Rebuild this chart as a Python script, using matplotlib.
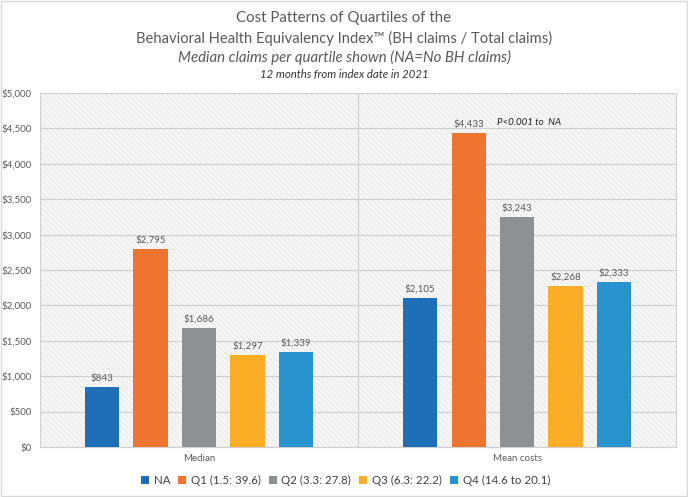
import matplotlib
matplotlib.use("Agg")
import matplotlib.pyplot as plt
from matplotlib.patches import Rectangle
from matplotlib.ticker import FuncFormatter
import numpy as np

plt.rcParams['font.family'] = ['Lato', 'DejaVu Sans']
plt.rcParams['hatch.linewidth'] = 0.5

groups = ["Median", "Mean costs"]
series = ["NA", "Q1 (1.5: 39.6)", "Q2 (3.3: 27.8)", "Q3 (6.3: 22.2)", "Q4 (14.6 to 20.1)"]
values = {
    "NA": [843, 2105],
    "Q1 (1.5: 39.6)": [2795, 4433],
    "Q2 (3.3: 27.8)": [1686, 3243],
    "Q3 (6.3: 22.2)": [1297, 2268],
    "Q4 (14.6 to 20.1)": [1339, 2333],
}
colors = ["#1f6fb8", "#f07330", "#8e9194", "#fbad25", "#2794d0"]
yticks = list(range(0, 5001, 500))

fig = plt.figure(figsize=(6.88, 4.97), dpi=100)
fig.patches.append(Rectangle((0.002, 0.002), 0.996, 0.996, transform=fig.transFigure,
                             fill=False, edgecolor="#d9d9d9", linewidth=1))
ax = fig.add_axes([0.0581, 0.1006, 0.9245, 0.7123])

# hatched background
ax.set_facecolor("#f6f6f6")
bg = Rectangle((0, 0), 1, 1, transform=ax.transAxes, facecolor="#f6f6f6",
               edgecolor="#e2e2e2", hatch="\\\\\\\\\\\\", linewidth=0, zorder=0)
ax.add_patch(bg)

x = np.arange(len(groups))
width = 0.107
step = 0.1525
for i, (s, c) in enumerate(zip(series, colors)):
    offs = (i - 2) * step
    bars = ax.bar(x + offs, values[s], width, color=c, label=s, zorder=3)
    for b, v in zip(bars, values[s]):
        ax.text(b.get_x() + b.get_width() / 2, v + 60, f"${v:,}", ha="center", va="bottom",
                fontsize=7, color="#595959", zorder=4)

ax.set_xlim(-0.5, 1.5)
ax.set_ylim(0, 5000)
ax.set_yticks(yticks)
ax.yaxis.set_major_formatter(FuncFormatter(lambda v, p: f"${int(v):,}"))
ax.tick_params(axis="y", labelsize=7, colors="#595959", length=0, pad=6)
ax.set_xticks(x)
ax.set_xticklabels(groups)
ax.tick_params(axis="x", labelsize=7, colors="#595959", length=0, pad=5)
ax.grid(axis="y", color="#cfcfcf", linewidth=0.8, zorder=1)
ax.axvline(0.5, color="#cfcfcf", linewidth=0.8, zorder=1)
for sp in ax.spines.values():
    sp.set_color("#d0d0d0")
    sp.set_linewidth(0.8)

ax.text(0.937, 4590, "P<0.001 to  NA", style="italic", fontsize=7,
        color="#222222", zorder=4, ha="left", va="center")

fig.text(0.5, 0.963, "Cost Patterns of Quartiles of the", ha="center", va="center",
         fontsize=10.8, color="#595959")
fig.text(0.5, 0.923, "Behavioral Health Equivalency Index\u2122 (BH claims / Total claims)",
         ha="center", va="center", fontsize=10.6, color="#595959")
fig.text(0.5, 0.884, "Median claims per quartile shown (NA=No BH claims)", ha="center",
         va="center", fontsize=10.8, color="#595959", style="italic")
fig.text(0.5, 0.851, "12 months from index date in 2021", ha="center", va="center",
         fontsize=8.2, color="#333333", style="italic")

fig.legend(loc="center", bbox_to_anchor=(0.502, 0.034), ncol=5, frameon=False,
           fontsize=8.3, handlelength=0.7, handleheight=0.7, handletextpad=0.4,
           columnspacing=0.7, labelcolor="#404040")

fig.savefig("out.png", dpi=100)
